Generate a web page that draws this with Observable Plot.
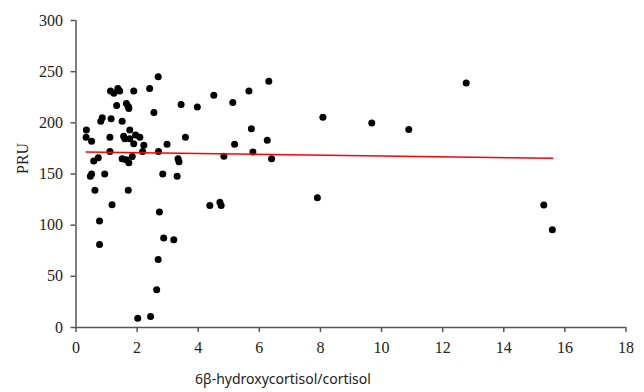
<!DOCTYPE html>
<html><head><meta charset="utf-8">
<script src="https://cdn.jsdelivr.net/npm/d3@7"></script>
<script src="https://cdn.jsdelivr.net/npm/@observablehq/plot@0.6"></script>
<style>body{margin:0;background:#fff} svg text.serif, .serif text{font-family:"Liberation Serif","DejaVu Serif",serif !important;}</style>
</head><body><div id="chart"></div>
<script>
const ratio = [2.69,1.13,1.24,1.37,1.43,1.89,2.41,1.33,1.65,1.71,1.73,3.44,2.55,0.86,0.81,1.15,1.51,0.34,0.33,0.51,1.11,1.56,1.76,1.60,1.76,1.95,2.09,1.89,2.22,2.98,3.58,1.11,2.18,2.70,0.73,0.58,1.51,1.64,1.73,1.84,3.34,3.37,0.51,0.47,0.94,2.84,3.31,0.62,1.71,1.18,2.73,0.77,2.87,3.20,0.77,2.69,2.64,2.02,2.44,6.31,4.51,5.66,3.97,5.13,8.08,5.74,5.19,6.26,4.84,5.79,6.40,7.90,4.38,4.71,4.75,12.77,9.68,10.89,15.31,15.59];
const pru = [245,231,229,233.5,231,231,233.5,217,219,216,214,218,210,205,201.5,204,201.5,193,186,182,186,187,193,184.5,184.5,188,186,179.5,178,179,186,172,172,172,166,162.7,165,164,161,167,165,162,150,147.7,150,150,147.7,134,134,120,112.8,104,87.4,85.8,81,66.5,36.9,9.1,10.8,240.6,227,231,215.5,219.8,205.5,194.3,179,183,167.3,171.5,165,126.9,119.3,122.3,119.3,239,199.9,193.4,119.7,95.6];
const fitX = [0.33, 15.6];
const fitY = [171.5, 165.3];
const xTicks = [0,2,4,6,8,10,12,14,16,18];
const yTicks = [0,50,100,150,200,250,300];
const xLabel = "6β-hydroxycortisol/cortisol";
const yLabel = "PRU";

const data = ratio.map((r, i) => ({r, p: pru[i]}));
const fit = fitX.map((x, i) => ({x, y: fitY[i]}));

const chart = Plot.plot({
  width: 644, height: 392,
  marginLeft: 75.5, marginRight: 18.5, marginTop: 20, marginBottom: 65,
  x: {domain: [0, 18]},
  y: {domain: [0, 300]},
  style: {background: "#fff", color: "#222"},
  marks: [
    Plot.axisX({ticks: xTicks, tickSize: 5, tickPadding: 9, label: null, fontSize: 16, className: "serif", stroke: "#555", strokeWidth: 1.5}),
    Plot.axisY({ticks: yTicks, tickSize: 5, tickPadding: 8, label: null, fontSize: 16, className: "serif", stroke: "#555", strokeWidth: 1.5}),
    Plot.ruleY([0], {stroke: "#555", strokeWidth: 1.5}),
    Plot.ruleX([0], {stroke: "#555", strokeWidth: 1.5}),
    Plot.dot(data, {x: "r", y: "p", r: 3.5, fill: "black"}),
    Plot.line(fit, {x: "x", y: "y", stroke: "red", strokeWidth: 1.5}),
    Plot.text([yLabel], {frameAnchor: "left", dx: -53, rotate: -90, fontSize: 16, className: "serif", fill: "#222"}),
    Plot.text([xLabel], {frameAnchor: "bottom", dx: -68, dy: 56, fontSize: 14, fontFamily: "Noto Sans, sans-serif", fill: "#222"})
  ]
});
document.getElementById("chart").appendChild(chart);
</script>
</body></html>
